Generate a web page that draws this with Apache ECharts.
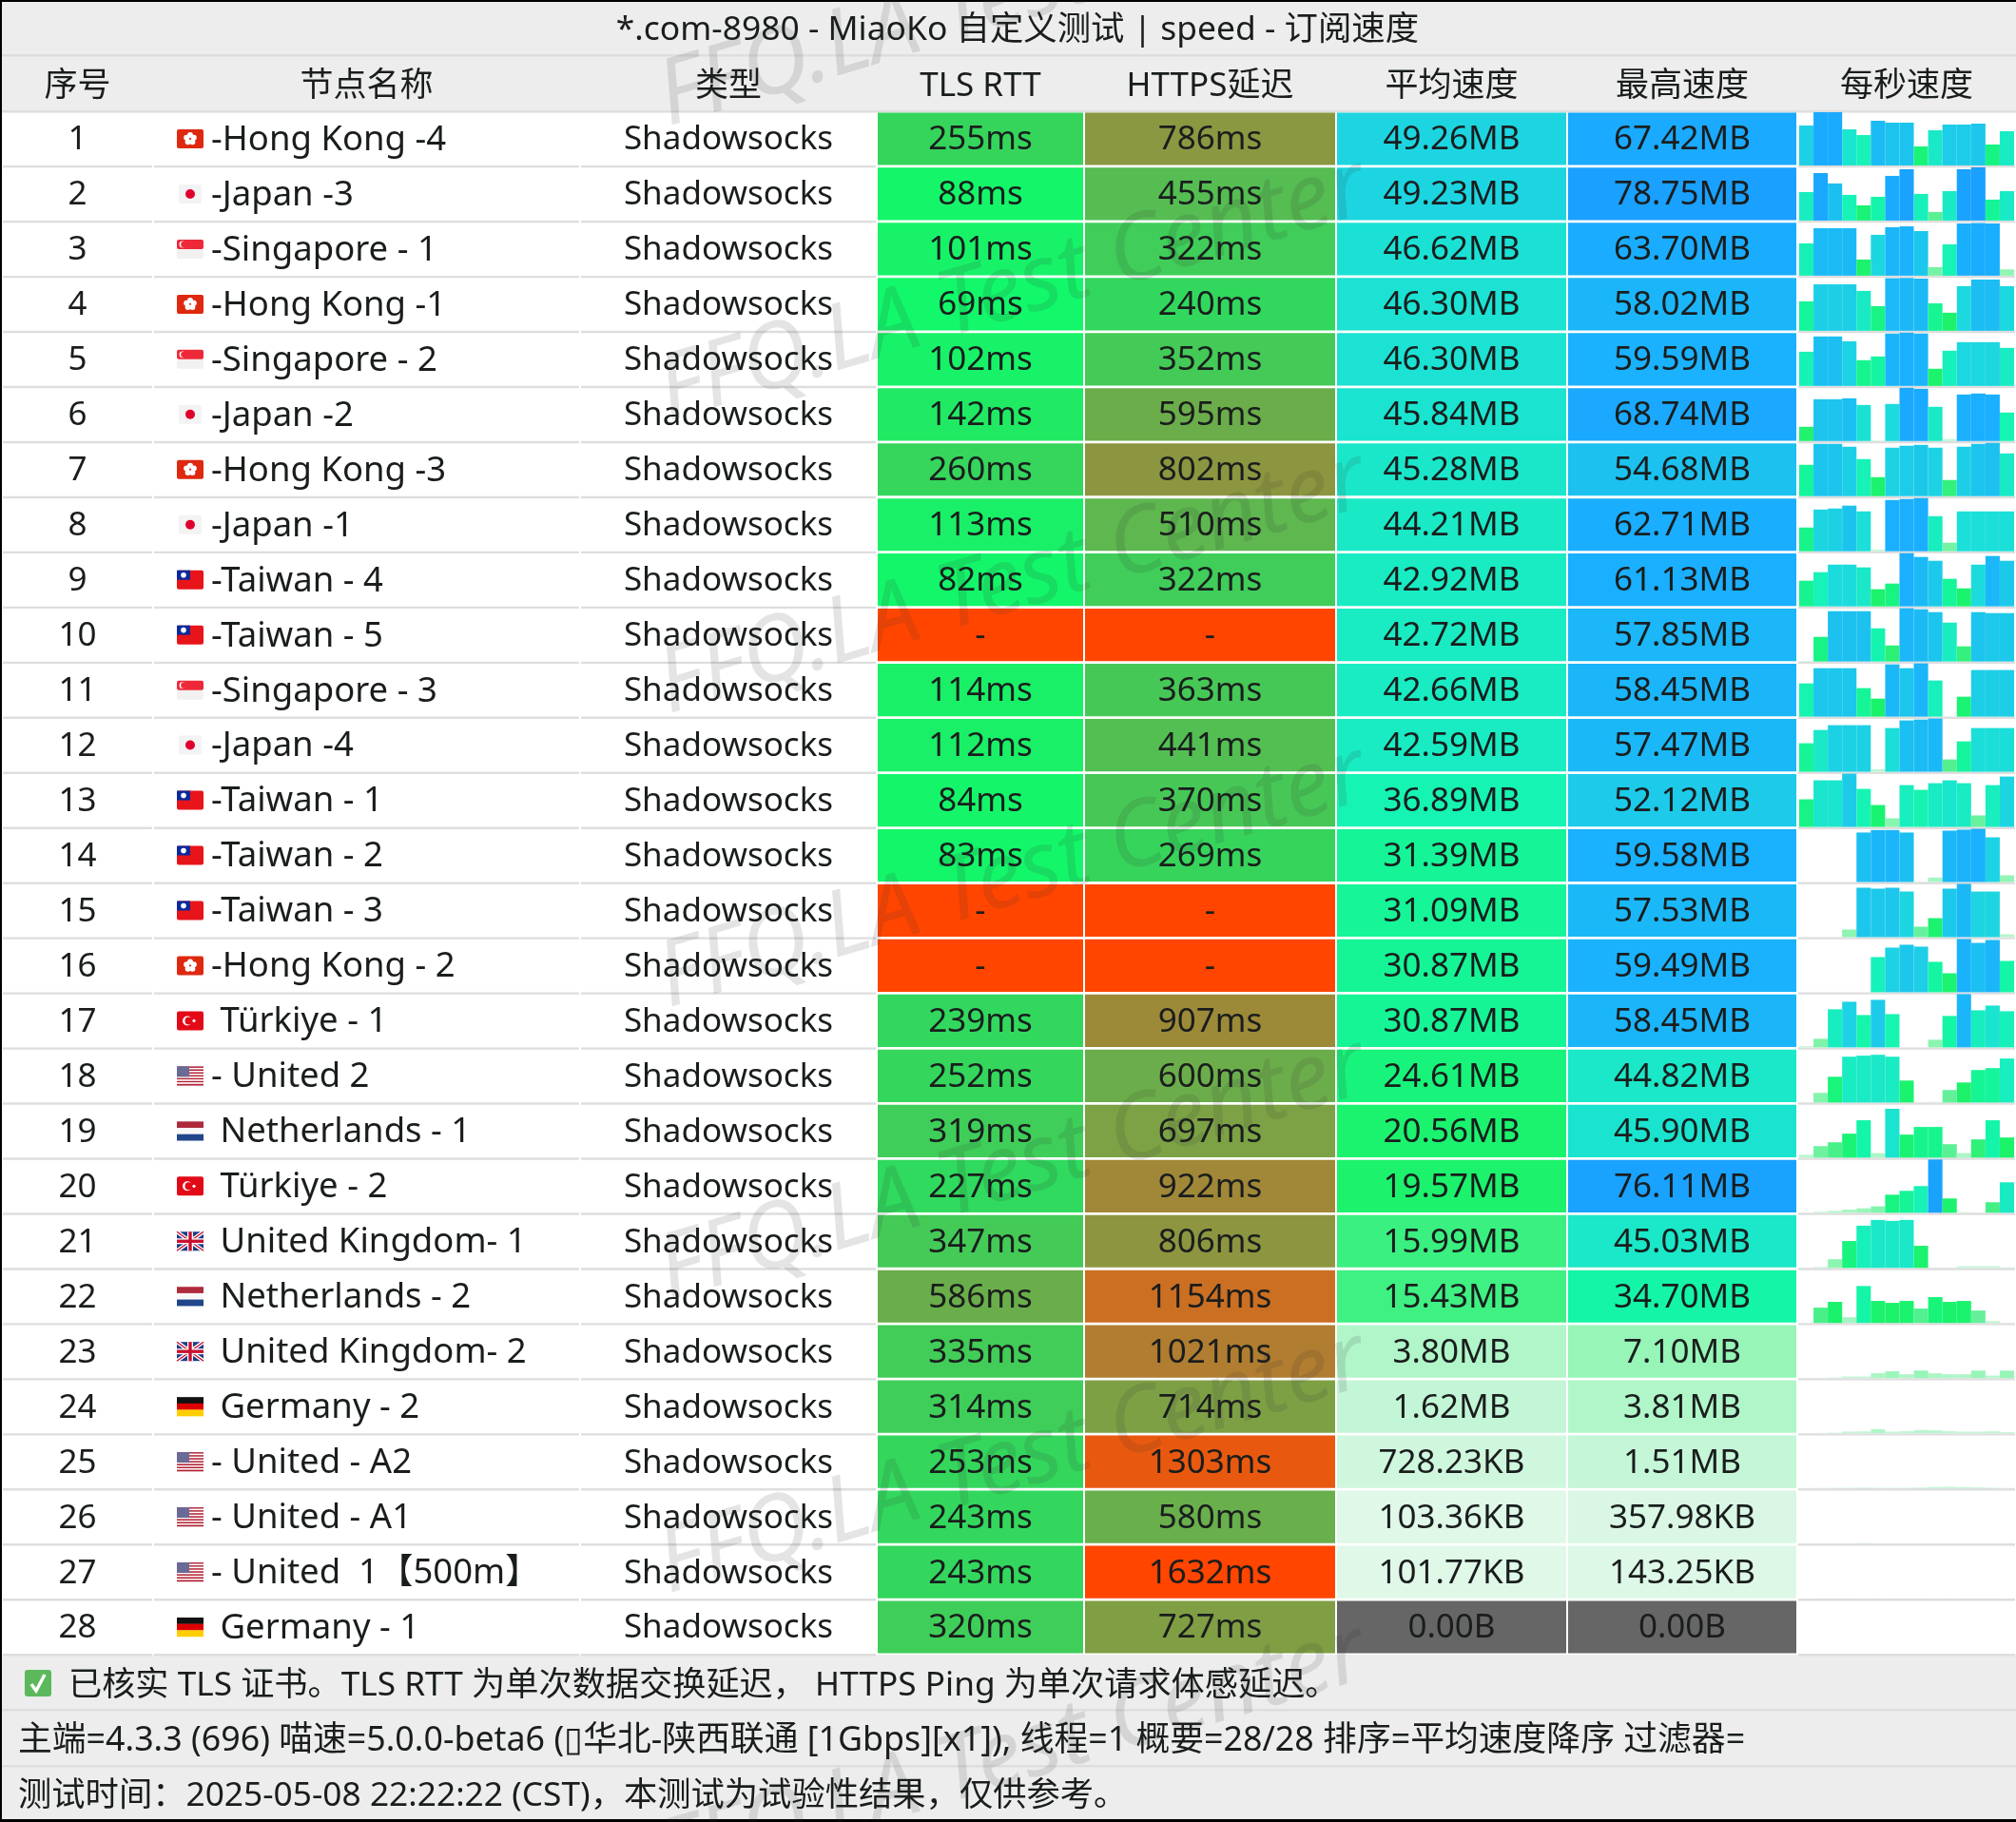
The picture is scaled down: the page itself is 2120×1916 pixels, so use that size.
<!DOCTYPE html>
<html>
<head>
<meta charset="utf-8">
<title>MiaoKo speed</title>
<script src="https://cdn.jsdelivr.net/npm/echarts@6/dist/echarts.min.js"></script>
<style>
  html, body { margin: 0; padding: 0; background: #000; }
  #chart { width: 2120px; height: 1916px; }
</style>
</head>
<body>
<div id="chart"></div>
<script>
const chartTitle = '*.com-8980 - MiaoKo 自定义测试 | speed - 订阅速度'
const headers = ['序号', '节点名称', '类型', 'TLS RTT', 'HTTPS延迟', '平均速度', '最高速度', '每秒速度']
const footerLines = [
  '已核实 TLS 证书。TLS RTT 为单次数据交换延迟， HTTPS Ping 为单次请求体感延迟。',
  '主端=4.3.3 (696) 喵速=5.0.0-beta6 (▯华北-陕西联通 [1Gbps][x1]), 线程=1 概要=28/28 排序=平均速度降序 过滤器=',
  '测试时间：2025-05-08 22:22:22 (CST)，本测试为试验性结果，仅供参考。'
]
const watermarkText = 'FFQ.LA Test Center'

const nodeNames = [
  '-Hong Kong -4', '-Japan -3', '-Singapore - 1', '-Hong Kong -1', '-Singapore - 2', '-Japan -2', '-Hong Kong -3',
  '-Japan -1', '-Taiwan - 4', '-Taiwan - 5', '-Singapore - 3', '-Japan -4', '-Taiwan - 1', '-Taiwan - 2',
  '-Taiwan - 3', '-Hong Kong - 2', ' Türkiye - 1', '- United 2', ' Netherlands - 1', ' Türkiye - 2',
  ' United Kingdom- 1', ' Netherlands - 2', ' United Kingdom- 2', ' Germany - 2', '- United - A2', '- United - A1',
  '- United  1【500m】', ' Germany - 1'
]
const nodeFlags = [
  'hk', 'jp', 'sg', 'hk', 'sg', 'jp', 'hk', 'jp', 'tw', 'tw', 'sg', 'jp', 'tw', 'tw',
  'tw', 'hk', 'tr', 'us', 'nl', 'tr', 'gb', 'nl', 'gb', 'de', 'us', 'us', 'us', 'de'
]
const nodeType = 'Shadowsocks'
// null 表示没有测到
const tlsRtt = [255, 88, 101, 69, 102, 142, 260, 113, 82, null, 114, 112, 84, 83, null, null, 239, 252, 319, 227, 347, 586, 335, 314, 253, 243, 243, 320]
const httpsDelay = [786, 455, 322, 240, 352, 595, 802, 510, 322, null, 363, 441, 370, 269, null, null, 907, 600, 697, 922, 806, 1154, 1021, 714, 1303, 580, 1632, 727]
const avgSpeed = [
  '49.26MB', '49.23MB', '46.62MB', '46.30MB', '46.30MB', '45.84MB', '45.28MB', '44.21MB', '42.92MB', '42.72MB',
  '42.66MB', '42.59MB', '36.89MB', '31.39MB', '31.09MB', '30.87MB', '30.87MB', '24.61MB', '20.56MB', '19.57MB',
  '15.99MB', '15.43MB', '3.80MB', '1.62MB', '728.23KB', '103.36KB', '101.77KB', '0.00B'
]
const maxSpeed = [
  '67.42MB', '78.75MB', '63.70MB', '58.02MB', '59.59MB', '68.74MB', '54.68MB', '62.71MB', '61.13MB', '57.85MB',
  '58.45MB', '57.47MB', '52.12MB', '59.58MB', '57.53MB', '59.49MB', '58.45MB', '44.82MB', '45.90MB', '76.11MB',
  '45.03MB', '34.70MB', '7.10MB', '3.81MB', '1.51MB', '357.98KB', '143.25KB', '0.00B'
]
// 每秒速度, MB, 从图上读的
const perSecond = [
  [50.6, 67.4, 67.4, 45.7, 38.5, 56.6, 54.2, 54.2, 24.1, 44.5, 51.8, 51.8, 53, 26.5, 43.3],
  [42.2, 70.3, 54.9, 38, 22.5, 35.2, 66.1, 76, 39.4, 12.7, 43.6, 76, 78.75, 31, 43.6],
  [38.7, 56.9, 56.9, 56.9, 19.3, 48.9, 58, 59.1, 53.4, 10.2, 37.5, 62.5, 63, 62.5, 7.6],
  [32.1, 50.7, 50.7, 50.7, 43.5, 26.9, 57.3, 57.6, 56.9, 30, 19.7, 48.7, 55.9, 55.9, 48.7],
  [38.3, 55.4, 55.4, 50, 28.8, 33, 58.6, 59.6, 58.6, 19.2, 39.4, 49, 49, 49, 42.6],
  [18.4, 54, 54, 55.2, 46.6, 0.8, 47.9, 68.7, 67.5, 44.2, 2.5, 60.1, 61.4, 60.1, 36.8],
  [32.2, 53.7, 53.7, 50.8, 38.1, 19.5, 49.8, 51.8, 52.7, 49.8, 16.6, 50.8, 53.7, 54.68, 43.9],
  [28, 49.2, 50.4, 53.8, 47, 1.9, 60.4, 61.6, 62.7, 41.4, 10.1, 47, 47, 47, 47],
  [29.5, 39.3, 48, 48, 44.8, 19.7, 26.2, 61.1, 56.8, 52.4, 31.7, 20.7, 48, 57.9, 52.4],
  [0.7, 26.8, 54.7, 54.7, 54.7, 36.1, 17.5, 57.85, 56.8, 53.7, 42.3, 16.5, 53.7, 52.6, 52.6],
  [36.5, 53.2, 53.2, 53.2, 31.3, 19.8, 57.4, 53.2, 58.45, 39.7, 0, 21.9, 51.2, 51.2, 51.2],
  [30.8, 45.1, 50.3, 50.3, 50.3, 2.7, 47.2, 55.4, 56.4, 57.47, 13.3, 32.8, 47.2, 47.2, 47.2],
  [27, 45.6, 45.6, 52.1, 37.2, 21.4, 8.4, 40.9, 36.3, 42.8, 45.6, 42.8, 11.2, 40.9, 49.3],
  [0, 0, 0, 0, 55.4, 58.2, 58.2, 55.4, 0.7, 5, 57.5, 58.6, 59.58, 50, 7.5],
  [0, 0, 0, 8.2, 53.4, 52.4, 53.4, 49.3, 11.3, 20.5, 52.4, 57.53, 49.3, 49.3, 3.1],
  [0, 0, 0, 0, 0, 39.3, 49.9, 53.1, 51, 34, 21.2, 59.49, 55.2, 58.4, 35],
  [1.4, 9.4, 41.8, 50.1, 35.5, 52.2, 36.5, 0, 0, 8.4, 34.5, 58.45, 40.7, 45.9, 39.7],
  [0, 9, 24.2, 43, 44, 44.82, 43, 20.6, 0, 0.6, 11.7, 18.8, 30.5, 32.3, 41.3],
  [2.7, 10.8, 14.4, 22.5, 35.1, 4.2, 45.9, 21.6, 28.8, 28.8, 12.6, 4.2, 17.1, 35.1, 18.9],
  [0, 1.4, 2.7, 4.5, 6.3, 9.1, 25.8, 31.3, 38.1, 76.11, 20.4, 0.9, 0, 15, 43.5],
  [0, 0.9, 8.1, 25.2, 39.6, 45, 44.1, 45.03, 20.7, 0, 0, 1.5, 1.5, 1.5, 0.6],
  [0, 14.4, 19.8, 5.4, 34.7, 20.7, 18.9, 20.7, 13.5, 24.3, 19.8, 20.7, 11.7, 1.8, 0],
  [0, 0, 0.6, 1.5, 1.5, 4.5, 6.3, 3.6, 7.1, 4.5, 3.6, 3.6, 7, 2.4, 7],
  [0.2, 0.3, 0.6, 1.6, 1.7, 3.81, 1.5, 1.9, 3, 2.7, 1.9, 1.5, 1.5, 1.8, 1],
  [0.3, 0.4, 0.5, 0.6, 0.7, 0.6, 0.5, 0.6, 0.8, 1.3, 1.51, 1.2, 0.9, 0.6, 0.4],
  [0.05, 0.1, 0.08, 0.12, 0.35, 0.1, 0.08, 0.09, 0.1, 0.12, 0.06, 0.09, 0.11, 0.05, 0.05],
  [0.08, 0.1, 0.14, 0.1, 0.1, 0.09, 0.11, 0.12, 0.1, 0.09, 0.1, 0.11, 0.1, 0.1, 0.08],
  [0, 0, 0, 0, 0, 0, 0, 0, 0, 0, 0, 0, 0, 0, 0]
]
const secondTicks = perSecond[0].map((_, i) => i + 1)

// 版面
const FONT = "'Noto Sans','Noto Sans CJK SC',sans-serif"
const FONT_SIZE = 35
const NAME_FONT_SIZE = 36.5
const TEXT_COLOR = '#1a1d1d'
const TABLE_TOP = 117
const TABLE_BOTTOM = 1740
const ROW_H = (TABLE_BOTTOM - TABLE_TOP) / nodeNames.length
const COL_EDGES = [2, 161, 610, 922, 1140, 1405, 1648, 1890, 2120]
const BAND = '#ededed'
const LINE = '#dedede'

const speedStops = [
  [0, '#e6f9ee'], [0.1, '#dff8e8'], [1, '#c8f6da'], [4, '#aef6c8'], [8, '#8ff5b2'], [12, '#60f098'],
  [16, '#3af080'], [19, '#1cf26a'], [25, '#18f47c'], [35, '#14f5a8'], [37, '#16f4b4'], [45, '#1ae8c8'],
  [47, '#1bdfd8'], [50, '#1dd2e4'], [55, '#1cc0f0'], [60, '#1ab0ff'], [80, '#1a9fff']
]
const delayStops = [
  [0, '#0cfc66'], [70, '#12f86a'], [250, '#34d65c'], [500, '#5cb850'], [800, '#8c9640'],
  [1000, '#ac7f33'], [1200, '#d46a1e'], [1300, '#e8590f'], [1600, '#ff4500']
]

const hexRgb = (hex) => [1, 3, 5].map((p) => parseInt(hex.slice(p, p + 2), 16))
const ramp = (stops, v) => {
  if (v >= stops[stops.length - 1][0]) return stops[stops.length - 1][1]
  let i = 0
  while (v > stops[i + 1][0]) i++
  const t = (v - stops[i][0]) / (stops[i + 1][0] - stops[i][0])
  const a = hexRgb(stops[i][1])
  const b = hexRgb(stops[i + 1][1])
  return `rgb(${a.map((c, k) => Math.round(c + (b[k] - c) * t)).join(',')})`
}
const toMB = (s) => {
  const n = parseFloat(s)
  if (s.endsWith('KB')) return n / 1024
  if (s.endsWith('MB')) return n
  return n / 1048576
}
const speedColor = (s) => (toMB(s) === 0 ? '#666666' : ramp(speedStops, toMB(s)))
const delayColor = (v) => (v === null ? '#ff4500' : ramp(delayStops, v))
const delayText = (v) => (v === null ? '-' : v + 'ms')

// 国旗, 28x20
const rect = (x, y, w, h, fill, r) => ({ type: 'rect', shape: { x, y, width: w, height: h, r: r || 0 }, style: { fill } })
const dot = (cx, cy, r, fill) => ({ type: 'circle', shape: { cx, cy, r }, style: { fill } })
const seg = (x1, y1, x2, y2, stroke, lineWidth) => ({ type: 'line', shape: { x1, y1, x2, y2 }, style: { stroke, lineWidth } })
const stripes = (x, y, colors) => colors.map((c, i) => rect(x, y + i * 20 / colors.length, 28, 20 / colors.length + 0.2, c))
const flagShapes = {
  hk: (x, y) => [
    rect(x, y, 28, 20, '#de2910', 2),
    ...[0, 1, 2, 3, 4].map((k) => dot(x + 14 + 4 * Math.sin(k * 1.257), y + 10 - 4 * Math.cos(k * 1.257), 3, '#fff'))
  ],
  jp: (x, y) => [rect(x + 2, y, 24, 20, '#f3f3f3', 2), dot(x + 14, y + 10, 5, '#e0002d')],
  sg: (x, y) => [
    rect(x, y + 10, 28, 10, '#f1f1f1', 2), rect(x, y, 28, 10, '#ed2939', 2),
    dot(x + 6, y + 5, 3.4, '#fff'), dot(x + 7.4, y + 5, 3.2, '#ed2939')
  ],
  tw: (x, y) => [rect(x, y, 28, 20, '#e7141a', 2), rect(x, y, 14, 10, '#0a2a9c'), dot(x + 7, y + 5, 2.8, '#fff')],
  tr: (x, y) => [
    rect(x, y, 28, 20, '#e30a17', 2), dot(x + 11, y + 10, 5, '#fff'), dot(x + 12.5, y + 10, 4, '#e30a17'), dot(x + 18, y + 10, 1.6, '#fff')
  ],
  us: (x, y) => [
    ...stripes(x, y, ['#b22234', '#fff', '#b22234', '#fff', '#b22234', '#fff', '#b22234', '#fff', '#b22234', '#fff', '#b22234', '#fff', '#b22234']),
    rect(x, y, 13, 11, '#6a6a96')
  ],
  nl: (x, y) => stripes(x, y, ['#ae2a3c', '#f8f8f8', '#21468b']),
  de: (x, y) => stripes(x, y, ['#111111', '#dd0000', '#ffce00']),
  gb: (x, y) => [
    rect(x, y, 28, 20, '#1d3a86'),
    seg(x, y, x + 28, y + 20, '#fff', 4), seg(x + 28, y, x, y + 20, '#fff', 4),
    seg(x, y, x + 28, y + 20, '#c8102e', 1.4), seg(x + 28, y, x, y + 20, '#c8102e', 1.4),
    rect(x + 11, y, 6, 20, '#fff'), rect(x, y + 7, 28, 6, '#fff'),
    rect(x + 12.3, y, 3.4, 20, '#c8102e'), rect(x, y + 8.3, 28, 3.4, '#c8102e')
  ]
}

const label = (text, x, y, align, size) => ({
  type: 'text',
  style: { text, x, y: y + 1.5, fill: TEXT_COLOR, font: `${size || FONT_SIZE}px ${FONT}`, align: align || 'center', verticalAlign: 'middle' }
})

const rowLabels = nodeNames.map((_, i) => i + 1)
const rowBox = (api, i) => {
  const h = api.size([0, 1])[1]
  return { cy: api.coord([0, i])[1], h }
}

// 普通白底列
const plainCell = (textOf, extra) => (params, api) => {
  const i = params.dataIndex
  const { x, width } = params.coordSys
  const { cy, h } = rowBox(api, i)
  const children = [rect(x + 1, cy + h / 2 - 1, width - 2, 2.4, LINE)]
  if (textOf) {
    children.push(extra ? label(textOf(i), x + 61, cy, 'left', NAME_FONT_SIZE) : label(textOf(i), x + width / 2, cy))
  }
  if (extra) children.push(...extra(i, x, cy))
  return { type: 'group', children }
}

// 着色列
const colorCell = (textOf, colorOf) => (params, api) => {
  const i = params.dataIndex
  const { x, width } = params.coordSys
  const { cy, h } = rowBox(api, i)
  return {
    type: 'group',
    children: [rect(x + 1, cy - h / 2 + 1.4, width - 2, h - 2.8, colorOf(i)), label(textOf(i), x + width / 2, cy)]
  }
}

const renderers = [
  plainCell((i) => String(rowLabels[i])),
  plainCell((i) => nodeNames[i], (i, x, cy) => flagShapes[nodeFlags[i]](x + 25, cy - 10)),
  plainCell(() => nodeType),
  colorCell((i) => delayText(tlsRtt[i]), (i) => delayColor(tlsRtt[i])),
  colorCell((i) => delayText(httpsDelay[i]), (i) => delayColor(httpsDelay[i])),
  colorCell((i) => avgSpeed[i], (i) => speedColor(avgSpeed[i])),
  colorCell((i) => maxSpeed[i], (i) => speedColor(maxSpeed[i])),
  plainCell(null)
]

const grid = []
const xAxis = []
const yAxis = []
const series = []

headers.forEach((name, c) => {
  const left = COL_EDGES[c]
  grid.push({ left, width: COL_EDGES[c + 1] - left, top: TABLE_TOP, height: TABLE_BOTTOM - TABLE_TOP })
  xAxis.push({
    gridIndex: c,
    type: 'category',
    position: 'top',
    data: [name],
    axisLine: { show: false },
    axisTick: { show: false },
    axisLabel: { interval: 0, margin: 26, verticalAlign: 'middle', color: TEXT_COLOR, fontSize: FONT_SIZE, fontFamily: FONT }
  })
  yAxis.push({ gridIndex: c, type: 'category', inverse: true, data: rowLabels, show: false })
  series.push({
    type: 'custom',
    xAxisIndex: c,
    yAxisIndex: c,
    silent: true,
    clip: false,
    data: rowLabels.map((_, i) => [0, i]),
    encode: { x: 0, y: 1 },
    renderItem: renderers[c]
  })
})

// 每秒速度, 一行一个小图
perSecond.forEach((values, i) => {
  const idx = grid.length
  grid.push({ left: 1892, width: 226, top: TABLE_TOP + ROW_H * i + 1, height: ROW_H - 2 })
  xAxis.push({ gridIndex: idx, type: 'category', data: secondTicks, show: false })
  // 小于 50MB 的行按 50MB 封顶
  yAxis.push({ gridIndex: idx, type: 'value', min: 0, max: Math.max(toMB(maxSpeed[i]), 50), show: false })
  series.push({
    type: 'bar',
    xAxisIndex: idx,
    yAxisIndex: idx,
    silent: true,
    barWidth: '100%',
    data: values,
    itemStyle: { color: (p) => ramp(speedStops, p.value) }
  })
})

const bands = [
  rect(0, 0, 2120, 1916, '#000'),
  rect(2, 2, 2118, 1911, '#fff'),
  rect(2, 2, 2118, TABLE_TOP - 2, BAND),
  rect(2, 57, 2118, 2.4, LINE),
  rect(2, TABLE_TOP - 1, 2118, 2.4, LINE),
  rect(2, TABLE_BOTTOM, 2118, 173, BAND),
  rect(2, 1797, 2118, 2.4, LINE),
  rect(2, 1856, 2118, 2.4, LINE)
].map((el) => ({ ...el, silent: true, z: -10 }))

const footer = [
  { x: 72, y: 1772.5, size: 35.2 }, { x: 19, y: 1830.5, size: 35.8 }, { x: 19, y: 1888.5, size: 35.3 }
].map((p, i) => ({
  type: 'text',
  x: p.x,
  y: p.y,
  silent: true,
  style: { text: footerLines[i], fill: TEXT_COLOR, font: `${p.size}px ${FONT}`, align: 'left', verticalAlign: 'middle' }
}))

const checkBox = [
  { type: 'rect', shape: { x: 26, y: 1756, width: 28, height: 28, r: 3 }, style: { fill: '#5cb85c' }, silent: true },
  {
    type: 'polyline',
    shape: { points: [[33, 1771], [38, 1778], [47, 1761]] },
    style: { stroke: '#fff', lineWidth: 3.4, fill: null },
    silent: true
  }
]

// 水印
const watermarks = [-4, 306, 614, 923, 1231, 1539, 1847].map((y) => ({
  type: 'text',
  x: 1065,
  y,
  rotation: 0.29,
  silent: true,
  z: 100,
  style: {
    text: watermarkText,
    fill: 'rgba(50,50,50,0.13)',
    font: `italic 96px ${FONT}`,
    align: 'center',
    verticalAlign: 'middle'
  }
}))

const chart = echarts.init(document.getElementById('chart'), null, { renderer: 'canvas' })
chart.setOption({
  animation: false,
  backgroundColor: '#000',
  title: {
    text: chartTitle,
    left: 1065,
    top: 27,
    textAlign: 'center',
    textVerticalAlign: 'middle',
    textStyle: { color: TEXT_COLOR, fontSize: 35.4, fontWeight: 'normal', fontFamily: FONT }
  },
  grid,
  xAxis,
  yAxis,
  series,
  graphic: { elements: [...bands, ...footer, ...checkBox, ...watermarks] }
})
</script>
</body>
</html>
